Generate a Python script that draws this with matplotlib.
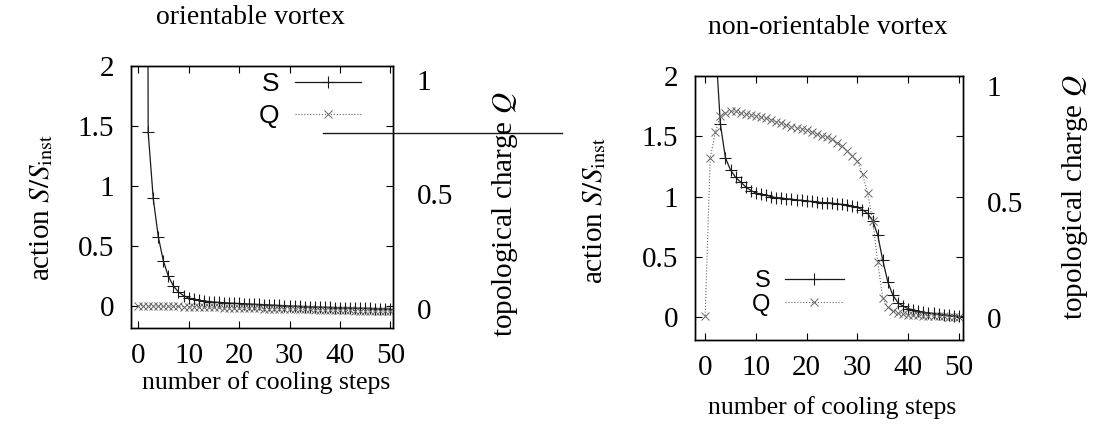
import matplotlib
matplotlib.use("Agg")
import matplotlib.pyplot as plt
from matplotlib.lines import Line2D

plt.rcParams["font.family"] = "Liberation Serif"
plt.rcParams["mathtext.fontset"] = "stix"

# --- data ---
steps = list(range(0, 51))

# orientable vortex
s_orient_x = list(range(1, 51))
s_orient = [20.0, 1.45, 0.90, 0.58, 0.38, 0.25, 0.17, 0.12, 0.09, 0.07,
            0.06, 0.05, 0.045, 0.04, 0.036, 0.033, 0.03, 0.028, 0.026, 0.024,
            0.022, 0.02, 0.018, 0.016, 0.014, 0.012, 0.01, 0.008, 0.006, 0.004,
            0.002, 0.0, -0.002, -0.004, -0.005, -0.006, -0.008, -0.009, -0.01, -0.011,
            -0.012, -0.013, -0.014, -0.015, -0.016, -0.017, -0.018, -0.019, -0.02, -0.02]
q_orient = [0.015, 0.014, 0.014, 0.013, 0.013, 0.012, 0.012, 0.011, 0.011, 0.01,
            0.01, 0.009, 0.009, 0.008, 0.008, 0.007, 0.007, 0.006, 0.006, 0.005,
            0.005, 0.004, 0.004, 0.003, 0.003, 0.002, 0.002, 0.001, 0.001, 0.0,
            0.0, -0.001, -0.001, -0.002, -0.002, -0.003, -0.003, -0.004, -0.004, -0.005,
            -0.005, -0.006, -0.006, -0.007, -0.007, -0.008, -0.008, -0.009, -0.009, -0.01,
            -0.01]

# non-orientable vortex
s_nonorient_x = list(range(1, 51))
s_nonorient = [5.0, 2.3, 1.6, 1.32, 1.22, 1.16, 1.12, 1.08, 1.05, 1.03,
               1.02, 1.01, 1.0, 0.99, 0.99, 0.98, 0.98, 0.97, 0.97, 0.96,
               0.96, 0.955, 0.95, 0.95, 0.945, 0.94, 0.935, 0.93, 0.92, 0.91,
               0.89, 0.86, 0.80, 0.68, 0.47, 0.29, 0.18, 0.12, 0.09, 0.07,
               0.06, 0.05, 0.04, 0.035, 0.03, 0.025, 0.02, 0.015, 0.01, 0.005]
q_nonorient = [0.01, 0.69, 0.80, 0.87, 0.885, 0.89, 0.89, 0.885, 0.88, 0.875,
               0.87, 0.865, 0.86, 0.855, 0.845, 0.84, 0.83, 0.825, 0.82, 0.815,
               0.81, 0.80, 0.795, 0.785, 0.78, 0.77, 0.755, 0.74, 0.72, 0.70,
               0.675, 0.62, 0.54, 0.42, 0.24, 0.085, 0.047, 0.03, 0.02, 0.015,
               0.013, 0.012, 0.011, 0.01, 0.009, 0.008, 0.008, 0.007, 0.006, 0.006,
               0.005]

x_ticks = [0, 10, 20, 30, 40, 50]
s_ticks = [0, 0.5, 1, 1.5, 2]
s_ticklabels = ["0", "0.5", "1", "1.5", "2"]
q_ticks = [0, 0.5, 1]
q_ticklabels = ["0", "0.5", "1"]

W, H = 1093, 429
fig = plt.figure(figsize=(W / 100, H / 100), dpi=100)


def px_box(x0, y0, x1, y1):
    return [x0 / W, 1 - y1 / H, (x1 - x0) / W, (y1 - y0) / H]


def panel(box, xlim, ylim, y2lim, sx, s, qx, q, leg_center, leg_spacing, leg_size):
    ax = fig.add_axes(box)
    ax.plot(sx, s, color="0.1", lw=0.9, marker="+", ms=9, mew=0.8, label="S")
    ax2 = ax.twinx()
    ax2.plot(qx, q, color="0.4", lw=0.8, ls=":", marker="x", ms=6, mew=0.7,
             label="Q")
    ax.set_xlim(*xlim)
    ax.set_ylim(*ylim)
    ax2.set_ylim(*y2lim)
    ax.set_xticks(x_ticks)
    ax.set_yticks(s_ticks)
    ax.set_yticklabels(s_ticklabels)
    ax.tick_params(direction="in", length=5, width=0.8, labelsize=21,
                   top=True, right=True, pad=12)
    ax.tick_params(axis="x", pad=11)
    ax2.set_yticks(q_ticks)
    ax2.set_yticklabels(q_ticklabels)
    ax2.tick_params(length=0, labelsize=21, pad=17)
    for a in (ax, ax2):
        for sp in a.spines.values():
            sp.set_linewidth(1.0)
    handles = [ax.lines[0], ax2.lines[0]]
    ax.legend(handles, ["S", "Q"], loc="center",
              bbox_to_anchor=(leg_center[0] / W, 1 - leg_center[1] / H),
              bbox_transform=fig.transFigure, frameon=False, markerfirst=False,
              handlelength=2.5, handletextpad=0.6, labelspacing=leg_spacing,
              prop={"family": "Liberation Sans", "size": leg_size})
    return ax, ax2


panel(px_box(131, 66, 393, 328), (-1.4, 50.5), (-0.18, 2.0), (-0.083, 1.061),
      s_orient_x, s_orient, steps, q_orient, (310, 100), 0.3, 19)
panel(px_box(695, 76, 963, 340), (-2.0, 50.8), (-0.19, 2.0), (-0.095, 1.043),
      s_nonorient_x, s_nonorient, steps, q_nonorient, (798, 293), 0.05, 17)

# stray horizontal rule present in the scan
fig.add_artist(Line2D([323 / W, 562 / W], [1 - 133 / H, 1 - 133 / H],
                      transform=fig.transFigure, color="0.1", lw=1.0))

fig.text(250 / W, 1 - 18 / H, "orientable vortex", ha="center", va="center",
         fontsize=20)
fig.text(828 / W, 1 - 28 / H, "non-orientable vortex", ha="center",
         va="center", fontsize=20)
fig.text(266 / W, 1 - 383 / H, "number of cooling steps", ha="center",
         va="center", fontsize=18.5)
fig.text(832 / W, 1 - 408 / H, "number of cooling steps", ha="center",
         va="center", fontsize=18.5)
fig.text(42 / W, 1 - 207 / H, r"action $S/S_{\rm inst}$", rotation=90,
         ha="center", va="center", fontsize=21)
fig.text(595 / W, 1 - 210 / H, r"action $S/S_{\rm inst}$", rotation=90,
         ha="center", va="center", fontsize=21)
fig.text(505 / W, 1 - 214 / H, r"topological charge $Q$", rotation=90,
         ha="center", va="center", fontsize=21)
fig.text(1075 / W, 1 - 197 / H, r"topological charge $Q$", rotation=90,
         ha="center", va="center", fontsize=21)

fig.savefig("out.png", dpi=100)
